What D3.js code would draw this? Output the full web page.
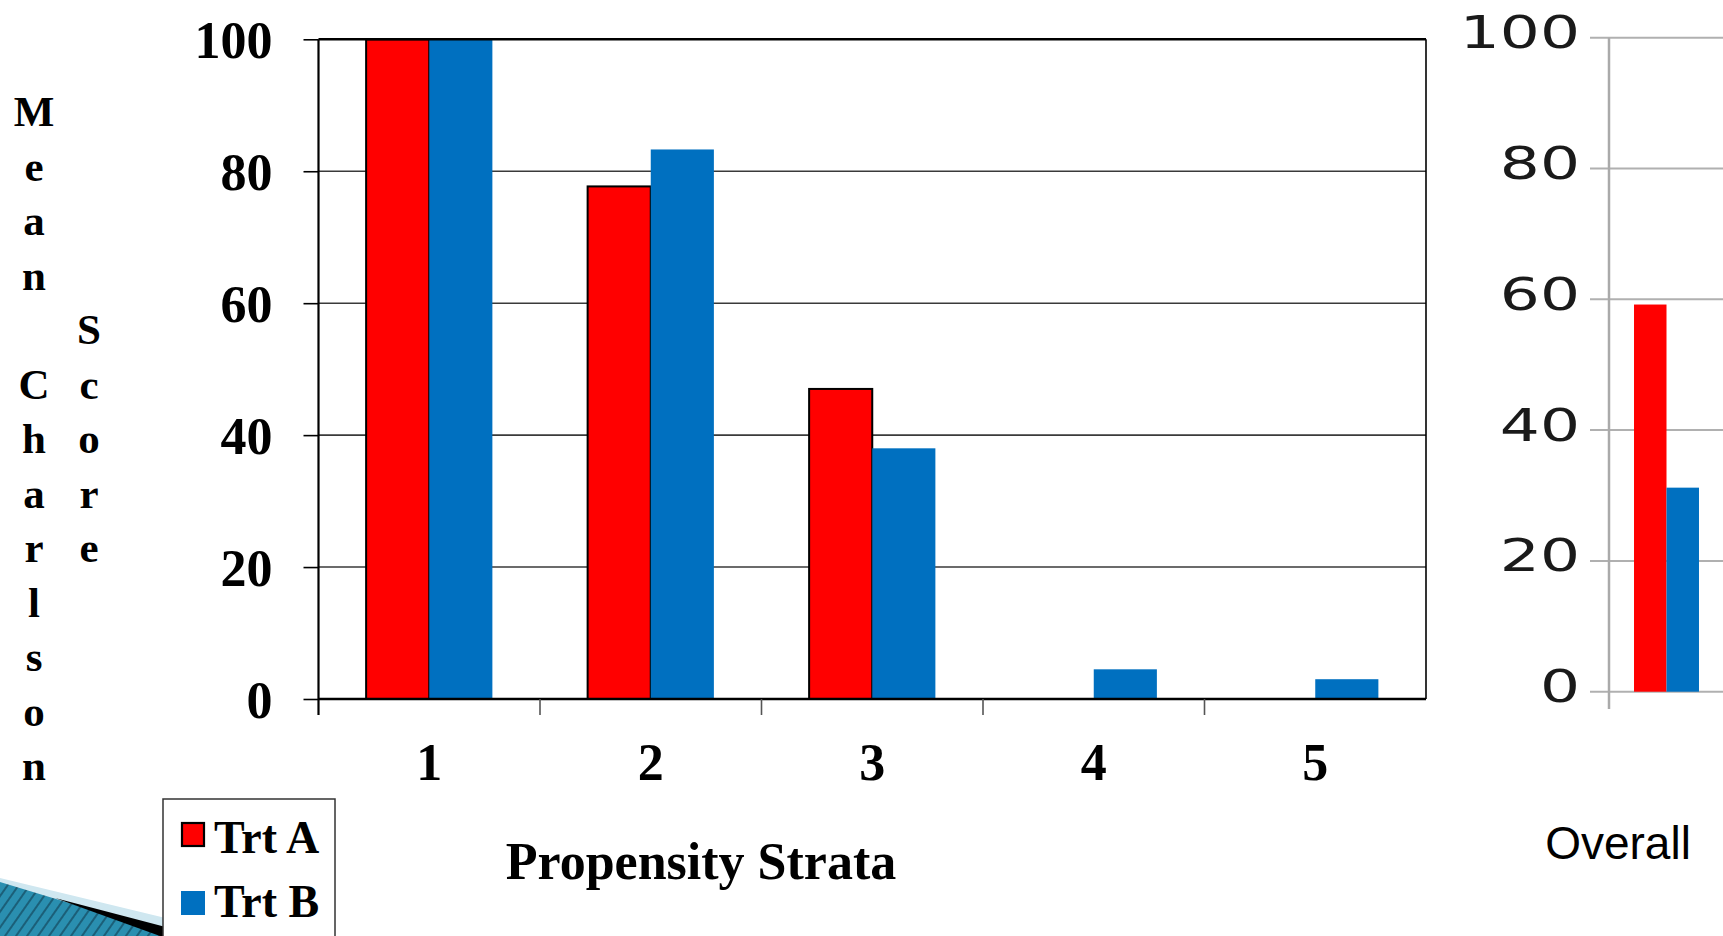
<!DOCTYPE html>
<html>
<head>
<meta charset="utf-8">
<script src="https://cdn.jsdelivr.net/npm/d3@7"></script>
<style>
  html, body { margin: 0; padding: 0; background: #fff; }
  svg { display: block; }
</style>
</head>
<body>
<svg id="chart" width="1723" height="936"></svg>
<script>
// ---- data ----
const strata = ["1", "2", "3", "4", "5"];
const seriesNames = ["Trt A", "Trt B"];
const trtA = [100, 77.7, 47, 0, 0];
const trtB = [100, 83.3, 38, 4.5, 3.0];
const yTicks = [0, 20, 40, 60, 80, 100];
const overallCats = ["Overall"];
const overallA = [59.2];
const overallB = [31.2];
const colors = ["#ff0000", "#0070c0"];
const yTitleCol1 = ["M", "e", "a", "n", " ", "C", "h", "a", "r", "l", "s", "o", "n"];
const yTitleCol2 = ["S", "c", "o", "r", "e"];

const svg = d3.select("#chart");
const serif = "'Liberation Serif','Times New Roman',serif";

// ---- decoration bottom-left ----
const defs = svg.append("defs");
const pat = defs.append("pattern").attr("id", "stripes").attr("patternUnits", "userSpaceOnUse")
  .attr("width", 9).attr("height", 9).attr("patternTransform", "rotate(35)");
pat.append("rect").attr("width", 9).attr("height", 9).attr("fill", "#2a8fb0");
pat.append("rect").attr("width", 2).attr("height", 9).attr("fill", "#1b5f78");
svg.append("path").attr("d", "M0,878 L240,936 L0,936 Z").attr("fill", "#cfe7f0");
svg.append("path").attr("d", "M0,882 L178,936 L0,936 Z").attr("fill", "url(#stripes)");
svg.append("path").attr("d", "M55,898 L200,936 L160,936 Z").attr("fill", "#000");

// ---- main chart ----
const m = { left: 318.5, right: 1426, top: 39.3, bottom: 699 };
const x0 = d3.scaleBand().domain(strata).range([m.left, m.right]).paddingInner(0.43).paddingOuter(0.215);
const x1 = d3.scaleBand().domain(seriesNames).range([0, x0.bandwidth()]);
const y = d3.scaleLinear().domain([0, 100]).range([m.bottom, m.top]);

const g = svg.append("g");
// gridlines
g.append("g").selectAll("line").data(yTicks.filter(d => d > 0 && d < 100)).join("line")
  .attr("x1", m.left).attr("x2", m.right).attr("y1", d => y(d)).attr("y2", d => y(d))
  .attr("stroke", "#3a3a3a").attr("stroke-width", 1.6);

// bars
const data = strata.map((s, i) => ({ s, vals: [trtA[i], trtB[i]] }));
const grp = g.append("g").selectAll("g").data(data).join("g")
  .attr("transform", d => `translate(${x0(d.s)},0)`);
grp.selectAll("rect").data(d => d.vals.map((v, k) => ({ v, k })).filter(e => e.v > 0)).join("rect")
  .attr("x", e => x1(seriesNames[e.k]))
  .attr("width", x1.bandwidth())
  .attr("y", e => y(e.v))
  .attr("height", e => y(0) - y(e.v))
  .attr("fill", e => colors[e.k])
  .attr("stroke", e => e.k === 0 ? "#000" : "none")
  .attr("stroke-width", 2);

// frame
g.append("line").attr("x1", m.left).attr("x2", m.right).attr("y1", m.top).attr("y2", m.top)
  .attr("stroke", "#000").attr("stroke-width", 2.5);
g.append("line").attr("x1", m.right).attr("x2", m.right).attr("y1", m.top).attr("y2", m.bottom)
  .attr("stroke", "#000").attr("stroke-width", 1.6);

// y axis
const yAxis = d3.axisLeft(y).tickValues(yTicks).tickSize(15).tickPadding(31).tickFormat(d3.format("d"));
const ya = g.append("g").attr("transform", `translate(${m.left},0)`).call(yAxis);
ya.select(".domain").attr("stroke", "#000").attr("stroke-width", 2.2).attr("d", `M0,${m.top}V${m.bottom + 16}`);
ya.selectAll(".tick line").attr("stroke", "#000").attr("stroke-width", 1.6);
ya.selectAll(".tick text").attr("font-family", serif).attr("font-weight", "bold")
  .attr("font-size", 52).attr("fill", "#000").attr("dy", "0.35em");

// x axis
const xTickPos = d3.range(strata.length + 1).map(i => m.left + i * x0.step());
const xa = g.append("g").attr("transform", `translate(0,${m.bottom})`);
xa.append("line").attr("x1", m.left).attr("x2", m.right).attr("stroke", "#000").attr("stroke-width", 2.6);
xa.selectAll("line.tk").data(xTickPos.slice(1, -1)).join("line").attr("class", "tk")
  .attr("x1", d => d).attr("x2", d => d).attr("y1", 0).attr("y2", 16)
  .attr("stroke", "#555").attr("stroke-width", 1.6);
xa.selectAll("text").data(strata).join("text")
  .attr("x", d => x0(d) + x0.bandwidth() / 2).attr("y", 81)
  .attr("text-anchor", "middle").attr("font-family", serif).attr("font-weight", "bold")
  .attr("font-size", 52).text(d => d);

// x title
svg.append("text").attr("x", 701).attr("y", 879).attr("text-anchor", "middle")
  .attr("font-family", serif).attr("font-weight", "bold").attr("font-size", 52).text("Propensity Strata");

// y title (stacked letters)
const yt = svg.append("g").attr("font-family", serif).attr("font-weight", "bold")
  .attr("font-size", 43).attr("text-anchor", "middle");
yt.selectAll("text.c1").data(yTitleCol1).join("text").attr("class", "c1")
  .attr("x", 34).attr("y", (d, i) => 126 + i * 54.5).text(d => d);
yt.selectAll("text.c2").data(yTitleCol2).join("text").attr("class", "c2")
  .attr("x", 89).attr("y", (d, i) => 126 + (i + 4) * 54.5).text(d => d);

// legend
const leg = svg.append("g");
leg.append("rect").attr("x", 163).attr("y", 799).attr("width", 172).attr("height", 150)
  .attr("fill", "#fff").attr("stroke", "#333").attr("stroke-width", 1.5);
seriesNames.forEach((n, i) => {
  leg.append("rect").attr("x", i === 0 ? 182 : 181).attr("y", 823 + i * 68)
    .attr("width", i === 0 ? 22 : 24).attr("height", i === 0 ? 23 : 24)
    .attr("fill", colors[i]).attr("stroke", i === 0 ? "#000" : "none").attr("stroke-width", 2.2);
  leg.append("text").attr("x", 214).attr("y", 853 + i * 64).attr("font-family", serif)
    .attr("font-weight", "bold").attr("font-size", 46).text(n);
});

// ---- overall chart (cut off at right edge) ----
const o = { left: 1609, right: 1724, top: 37.7, bottom: 691.7 };
const ox0 = d3.scaleBand().domain(overallCats).range([o.left, o.right]).paddingOuter(0.385).paddingInner(0);
const ox1 = d3.scaleBand().domain(seriesNames).range([0, ox0.bandwidth()]);
const oy = d3.scaleLinear().domain([0, 100]).range([o.bottom, o.top]);
const og = svg.append("g");
og.selectAll("line.gr").data(yTicks).join("line").attr("class", "gr")
  .attr("x1", 1590).attr("x2", 1723).attr("y1", d => oy(d)).attr("y2", d => oy(d))
  .attr("stroke", "#b0b0b0").attr("stroke-width", 2);
og.append("line").attr("x1", o.left).attr("x2", o.left).attr("y1", o.top).attr("y2", 709)
  .attr("stroke", "#aaaaaa").attr("stroke-width", 2.5);
const oData = overallCats.map((c, i) => ({ c, vals: [overallA[i], overallB[i]] }));
og.selectAll("g.ob").data(oData).join("g").attr("class", "ob")
  .attr("transform", d => `translate(${ox0(d.c)},0)`)
  .selectAll("rect").data(d => d.vals).join("rect")
  .attr("x", (v, k) => ox1(seriesNames[k])).attr("width", ox1.bandwidth())
  .attr("y", v => oy(v)).attr("height", v => oy(0) - oy(v))
  .attr("fill", (v, k) => colors[k]);
og.selectAll("text.yl").data(yTicks).join("text").attr("class", "yl")
  .attr("transform", d => `translate(1580,${oy(d) + 10.5}) scale(1.4,1)`)
  .attr("text-anchor", "end").attr("font-family", "'DejaVu Sans',sans-serif")
  .attr("font-size", 45).attr("fill", "#1a1a1a").text(d => d);
og.append("text").attr("x", 1618).attr("y", 859).attr("text-anchor", "middle")
  .attr("font-family", "'Liberation Sans',Arial,sans-serif").attr("font-size", 46)
  .attr("fill", "#000").text(overallCats[0]);
</script>
</body>
</html>
